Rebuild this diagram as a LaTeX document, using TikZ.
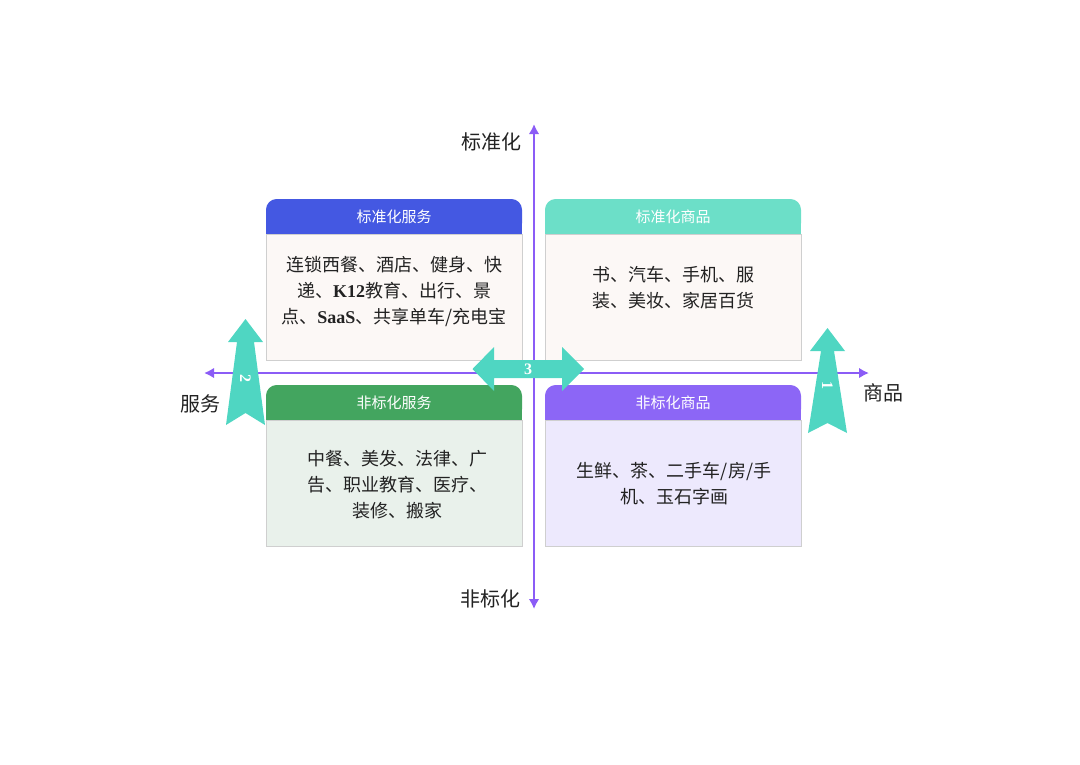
\documentclass[tikz,border=0pt]{standalone}
\usepackage{fontspec}
\usepackage{tikz}
\usetikzlibrary{positioning,arrows.meta,calc}
\setmainfont{Noto Sans CJK SC}
\newfontfamily\lat{Liberation Serif}
\newcommand{\pxScale}[0]{0.75}
\definecolor{axispurple}{HTML}{8B5CF6}
\definecolor{arrowteal}{HTML}{4FD6C2}
\definecolor{hdblue}{HTML}{4458E2}
\definecolor{hdteal}{HTML}{6CDFC8}
\definecolor{hdgreen}{HTML}{43A55F}
\definecolor{hdpurple}{HTML}{8C66F6}
\definecolor{bdpink}{HTML}{FCF8F6}
\definecolor{bdgreen}{HTML}{E9F1EB}
\definecolor{bdpurple}{HTML}{EDE9FD}
\definecolor{boxgray}{HTML}{CFCFCF}
\definecolor{textdark}{HTML}{222222}

\begin{document}
\begin{tikzpicture}[x=1pt, y=1pt, scale=\pxScale, transform shape]
  \tikzset{
    axis/.style={draw=axispurple, line width=1.5pt,
      {Latex[length=7.5pt,width=8pt]}-{Latex[length=7.5pt,width=8pt]}},
    axlabel/.style={text=textdark, font=\fontsize{20}{24}\selectfont},
    header/.style={rounded corners=8pt, minimum width=256pt, minimum height=35pt,
      inner sep=0pt, text=white, font=\fontsize{15}{18}\selectfont},
    body/.style={draw=boxgray, line width=0.75pt, minimum width=256pt,
      minimum height=126pt, inner sep=0pt},
    bodytext/.style={align=center, text=textdark, font=\fontsize{18}{26}\selectfont},
    number/.style={text=white, font=\fontsize{16}{18}\selectfont\lat\bfseries},
    bigarrow/.style={fill=arrowteal}
  }
  \useasboundingbox (0,0) rectangle (1080,-764);
  \coordinate (ax-top) at (534,-124);
  \coordinate (ax-bot) at (534,-609);
  \coordinate (ax-left) at (204,-373);
  \coordinate (ax-right) at (869,-373);
  \draw[axis] (ax-bot) -- (ax-top);
  \draw[axis] (ax-left) -- (ax-right);

  \node[header, fill=hdblue] (hd-1-1) at (394,-216.5) {标准化服务};
  \node[header, fill=hdteal] (hd-1-2) at (673,-216.5) {标准化商品};
  \node[header, fill=hdgreen] (hd-2-1) at (394,-402.5) {非标化服务};
  \node[header, fill=hdpurple] (hd-2-2) at (673,-402.5) {非标化商品};
  \foreach \hd/\col in {hd-1-1/hdblue, hd-1-2/hdteal, hd-2-1/hdgreen, hd-2-2/hdpurple}
    \fill[\col] (\hd.south west) rectangle ($(\hd.south east)+(0,10)$);

  \node[body, fill=bdpink, below=0pt of hd-1-1] (bd-1-1) {};
  \node[body, fill=bdpink, below=0pt of hd-1-2] (bd-1-2) {};
  \node[body, fill=bdgreen, below=0pt of hd-2-1] (bd-2-1) {};
  \node[body, fill=bdpurple, below=0pt of hd-2-2] (bd-2-2) {};

  \node[bodytext] (tx-1-1) at (394,-291)
    {连锁西餐、酒店、健身、快\\递、\textbf{\lat K12}教育、出行、景\\点、\textbf{\lat SaaS}、共享单车/充电宝};
  \node[bodytext] (tx-1-2) at (673,-288) {书、汽车、手机、服\\装、美妆、家居百货};
  \node[bodytext] (tx-2-1) at (397,-485) {中餐、美发、法律、广\\告、职业教育、医疗、\\装修、搬家};
  \node[bodytext] (tx-2-2) at (674,-484) {生鲜、茶、二手车/房/手\\机、玉石字画};

  \node[axlabel] (lb-top) at (491,-142) {标准化};
  \node[axlabel] (lb-bot) at (490,-599) {非标化};
  \node[axlabel] (lb-left) at (200,-404) {服务};
  \node[axlabel] (lb-right) at (883,-393) {商品};

  \fill[bigarrow] (827.5,-328) -- (845,-351) -- (834,-351) -- (847,-433) -- (827.5,-423)
    -- (808,-433) -- (821,-351) -- (810,-351) -- cycle;
  \fill[bigarrow] (245.5,-319) -- (263,-342) -- (254,-342) -- (265,-425) -- (245.5,-413)
    -- (226,-425) -- (237,-342) -- (228,-342) -- cycle;
  \fill[bigarrow] (472.5,-369) -- (494,-347) -- (494,-360) -- (562,-360) -- (562,-347)
    -- (584,-369) -- (562,-391) -- (562,-378) -- (494,-378) -- (494,-391) -- cycle;
  \node[number, rotate=-90] (num-1) at (827.5,-385) {1};
  \node[number, rotate=-90] (num-2) at (245.5,-378) {2};
  \node[number] (num-3) at (528,-369) {3};
\end{tikzpicture}
\end{document}
